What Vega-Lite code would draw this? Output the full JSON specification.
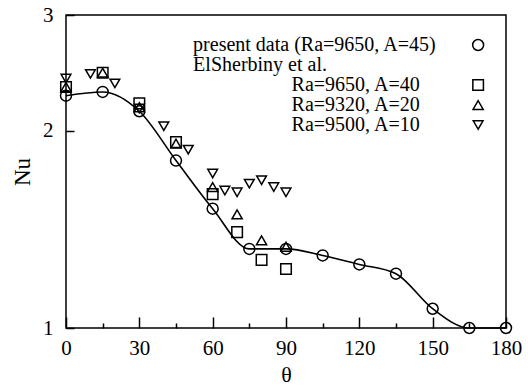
{
  "$schema": "https://vega.github.io/schema/vega-lite/v6.json",
  "width": 440,
  "height": 313,
  "autosize": {"type": "none"},
  "padding": {"left": 66, "top": 15, "right": 22, "bottom": 59},
  "background": "white",
  "config": {
    "view": {"stroke": "black", "strokeWidth": 1.5},
    "font": "Liberation Serif",
    "axis": {"domain": false, "ticks": true, "tickColor": "black", "labelColor": "black", "titleColor": "black", "grid": false, "labelFont": "Liberation Serif", "titleFont": "Liberation Serif", "titleFontWeight": "normal", "labelFlush": false, "labelOverlap": false, "tickWidth": 1.5}
  },
  "datasets": {
    "pts": [
      {"series": "present", "theta": 0, "Nu": 2.26},
      {"series": "present", "theta": 15, "Nu": 2.29},
      {"series": "present", "theta": 30, "Nu": 2.14},
      {"series": "present", "theta": 45, "Nu": 1.80},
      {"series": "present", "theta": 60, "Nu": 1.52},
      {"series": "present", "theta": 75, "Nu": 1.32},
      {"series": "present", "theta": 90, "Nu": 1.32},
      {"series": "present", "theta": 105, "Nu": 1.29},
      {"series": "present", "theta": 120, "Nu": 1.25},
      {"series": "present", "theta": 135, "Nu": 1.21},
      {"series": "present", "theta": 150, "Nu": 1.07},
      {"series": "present", "theta": 165, "Nu": 1.0},
      {"series": "present", "theta": 180, "Nu": 1.0},
      {"series": "A40", "theta": 0, "Nu": 2.33},
      {"series": "A40", "theta": 15, "Nu": 2.45},
      {"series": "A40", "theta": 30, "Nu": 2.20},
      {"series": "A40", "theta": 45, "Nu": 1.92},
      {"series": "A40", "theta": 60, "Nu": 1.60},
      {"series": "A40", "theta": 70, "Nu": 1.40},
      {"series": "A40", "theta": 80, "Nu": 1.27},
      {"series": "A40", "theta": 90, "Nu": 1.23},
      {"series": "A20", "theta": 0, "Nu": 2.33},
      {"series": "A20", "theta": 15, "Nu": 2.45},
      {"series": "A20", "theta": 30, "Nu": 2.17},
      {"series": "A20", "theta": 45, "Nu": 1.91},
      {"series": "A20", "theta": 60, "Nu": 1.64},
      {"series": "A20", "theta": 70, "Nu": 1.49},
      {"series": "A20", "theta": 80, "Nu": 1.36},
      {"series": "A20", "theta": 90, "Nu": 1.33},
      {"series": "A10", "theta": 0, "Nu": 2.40},
      {"series": "A10", "theta": 10, "Nu": 2.44},
      {"series": "A10", "theta": 20, "Nu": 2.36},
      {"series": "A10", "theta": 30, "Nu": 2.16},
      {"series": "A10", "theta": 40, "Nu": 2.03},
      {"series": "A10", "theta": 50, "Nu": 1.87},
      {"series": "A10", "theta": 60, "Nu": 1.72},
      {"series": "A10", "theta": 65, "Nu": 1.62},
      {"series": "A10", "theta": 70, "Nu": 1.61},
      {"series": "A10", "theta": 75, "Nu": 1.66},
      {"series": "A10", "theta": 80, "Nu": 1.68},
      {"series": "A10", "theta": 85, "Nu": 1.64},
      {"series": "A10", "theta": 90, "Nu": 1.61}
    ],
    "legendText": [
      {"theta": 52, "Nu": 2.70, "text": "present data (Ra=9650, A=45)"},
      {"theta": 52, "Nu": 2.516, "text": "ElSherbiny et al."},
      {"theta": 92.3, "Nu": 2.346, "text": "Ra=9650, A=40"},
      {"theta": 92.3, "Nu": 2.187, "text": "Ra=9320, A=20"},
      {"theta": 92.3, "Nu": 2.039, "text": "Ra=9500, A=10"}
    ],
    "legendSym": [
      {"series": "present", "theta": 168.6, "Nu": 2.70},
      {"series": "A40", "theta": 168.6, "Nu": 2.346},
      {"series": "A20", "theta": 168.6, "Nu": 2.187},
      {"series": "A10", "theta": 168.6, "Nu": 2.039}
    ]
  },
  "encoding": {
    "x": {
      "field": "theta", "type": "quantitative",
      "scale": {"domain": [0, 180], "nice": false, "zero": false},
      "axis": {
        "values": [0, 15, 30, 45, 60, 75, 90, 105, 120, 135, 150, 165, 180],
        "labelExpr": "datum.value % 30 == 0 ? datum.label : ''",
        "offset": -11,
        "tickSize": 11,
        "tickDash": {"condition": {"test": "datum.value % 30 == 0", "value": [20, 0]}, "value": [0, 6, 6, 50]},
        "labelPadding": 9,
        "labelFontSize": 21,
        "title": "θ",
        "titleFontSize": 22,
        "titlePadding": 6
      }
    },
    "y": {
      "field": "Nu", "type": "quantitative",
      "scale": {"type": "log", "domain": [1, 3], "nice": false},
      "axis": {
        "values": [1, 2, 3],
        "format": "d",
        "offset": -8,
        "tickSize": 8,
        "labelPadding": 13,
        "labelFontSize": 21,
        "title": "Nu",
        "titleFontSize": 23,
        "titlePadding": 8
      }
    }
  },
  "layer": [
    {
      "data": {"name": "pts"},
      "transform": [{"filter": "datum.series == 'present'"}],
      "mark": {"type": "line", "color": "black", "strokeWidth": 1.6, "interpolate": "monotone"}
    },
    {
      "data": {"name": "pts"},
      "mark": {"type": "point", "filled": false, "stroke": "black", "strokeWidth": 1.5, "opacity": 1},
      "encoding": {
        "shape": {"field": "series", "type": "nominal", "scale": {"domain": ["present", "A40", "A20", "A10"], "range": ["circle", "square", "triangle-up", "triangle-down"]}, "legend": null},
        "size": {"field": "series", "type": "nominal", "scale": {"domain": ["present", "A40", "A20", "A10"], "range": [120, 95, 110, 110]}, "legend": null}
      }
    },
    {
      "data": {"name": "legendText"},
      "mark": {"type": "text", "align": "left", "baseline": "middle", "font": "Liberation Serif", "fontSize": 20, "color": "black"},
      "encoding": {"text": {"field": "text"}}
    },
    {
      "data": {"name": "legendSym"},
      "mark": {"type": "point", "filled": false, "stroke": "black", "strokeWidth": 1.5, "opacity": 1},
      "encoding": {
        "shape": {"field": "series", "type": "nominal", "legend": null},
        "size": {"field": "series", "type": "nominal", "scale": {"domain": ["present", "A40", "A20", "A10"], "range": [60, 55, 60, 60]}, "legend": null}
      }
    }
  ]
}
